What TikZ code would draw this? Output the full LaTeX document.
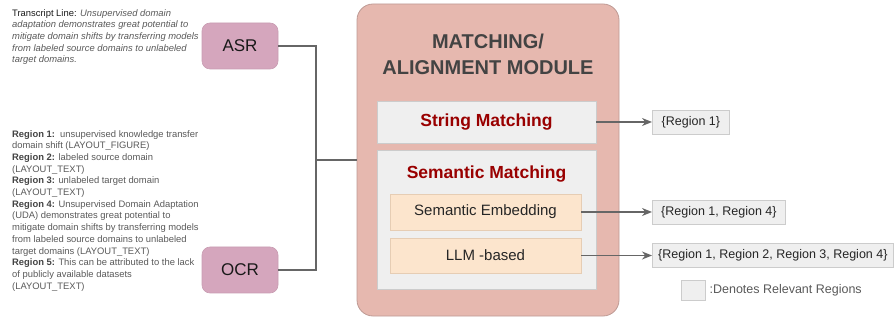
\documentclass[tikz,border=0pt]{standalone}
\usepackage{fontspec}
\setmainfont{Liberation Sans}
\definecolor{MODpink}{HTML}{E6B8AF}
\definecolor{MODedge}{HTML}{BE9A94}
\definecolor{SRCmauve}{HTML}{D5A6BD}
\definecolor{SRCedge}{HTML}{C99DB2}
\definecolor{BOXgray}{HTML}{EFEFEF}
\definecolor{BOXedge}{HTML}{CCCCCC}
\definecolor{SUBpeach}{HTML}{FCE5CD}
\definecolor{SUBedge}{HTML}{E6CDB4}
\definecolor{TXTdark}{HTML}{434343}
\definecolor{TXTgray}{HTML}{595959}
\definecolor{TXTred}{HTML}{990000}
\definecolor{LINKgray}{HTML}{666666}
\usetikzlibrary{arrows.meta, positioning}

\begin{document}
\begin{tikzpicture}[x=1pt, y=-1pt,
      srcbox/.style={draw=SRCedge, fill=SRCmauve, line width=0.6pt, rounded corners=8pt, minimum width=76pt, minimum height=46pt, font=\fontsize{17}{20}\selectfont, text=black!90},
      grayblock/.style={draw=BOXedge, fill=BOXgray, line width=0.8pt, minimum width=219pt},
      subblock/.style={draw=SUBedge, fill=SUBpeach, line width=0.8pt, minimum width=191pt, font=\fontsize{15}{18}\selectfont, text=black!85},
      regionset/.style={draw=BOXedge, fill=BOXgray, line width=0.8pt, anchor=west, minimum height=24pt, font=\fontsize{12.5}{15}\selectfont, text=black!85},
      heading/.style={font=\bfseries\fontsize{17.5}{20}\selectfont, text=TXTred},
      notes/.style={anchor=north west, align=left, inner sep=0pt, font=\fontsize{9.4}{11.7}\selectfont, text=TXTgray},
      link/.style={LINKgray, line width=1.5pt}]
   \useasboundingbox (0,0) rectangle (894,320);
   % Inputs and their text
   \node[notes] (transcript) at (12,9) {{\color{black!90}Transcript Line:} \textit{Unsupervised domain}\\
      \textit{adaptation demonstrates great potential to}\\
      \textit{mitigate domain shifts by transferring models}\\
      \textit{from labeled source domains to unlabeled}\\
      \textit{target domains.}};
   \node[notes] (regions) at (12,130) {{\bfseries\color{TXTdark}Region 1:}\ \ unsupervised knowledge transfer\\
      domain shift (LAYOUT\_FIGURE)\\
      {\bfseries\color{TXTdark}Region 2:} labeled source domain\\
      (LAYOUT\_TEXT)\\
      {\bfseries\color{TXTdark}Region 3:} unlabeled target domain\\
      (LAYOUT\_TEXT)\\
      {\bfseries\color{TXTdark}Region 4:} Unsupervised Domain Adaptation\\
      (UDA) demonstrates great potential to\\
      mitigate domain shifts by transferring models\\
      from labeled source domains to unlabeled\\
      target domains (LAYOUT\_TEXT)\\
      {\bfseries\color{TXTdark}Region 5:} This can be attributed to the lack\\
      of publicly available datasets\\
      (LAYOUT\_TEXT)};
   \node[srcbox] (asr) at (240,46) {ASR};
   \node[srcbox] (ocr) at (240,270) {OCR};
   % Matching module
   \node[draw=MODedge, fill=MODpink, line width=0.8pt, rounded corners=16pt, minimum width=262pt, minimum height=312pt] (module) at (488,160) {};
   \node[font=\bfseries\fontsize{20}{26}\selectfont, text=TXTdark, align=center] (title) at (488,54) {MATCHING/\\ALIGNMENT MODULE};
   \node[grayblock, minimum height=42pt, heading] (strmatch) at (486.5,122) {String Matching};
   \node[grayblock, minimum height=139pt] (semmatch) at (486.5,219.5) {};
   \node[heading] (semtitle) at (486.5,174) {Semantic Matching};
   \node[subblock, minimum height=36pt] (embed) at (485.5,212) {Semantic Embedding};
   \node[subblock, minimum height=35pt] (llm) at (485.5,255.5) {LLM -based};
   % Inputs into the module
   \coordinate (bus) at (316,160);
   \draw[link] (asr.east) -| (bus) |- (ocr.east);
   \draw[link] (bus) -- (module.west);
   % Relevant region sets
   \node[regionset, minimum width=77pt] (outstr) at (652,122) {\{Region 1\}};
   \node[regionset, minimum width=133pt] (outemb) at (652,212) {\{Region 1, Region 4\}};
   \node[regionset, minimum width=241pt] (outllm) at (652,255.5) {\{Region 1, Region 2, Region 3, Region 4\}};
   \draw[link, -{Stealth[length=10pt, width=8pt]}] (strmatch.east) -- (outstr.west);
   \draw[link, -{Stealth[length=10pt, width=8pt]}] (embed.east) -- (outemb.west);
   \draw[link, -{Stealth[length=10pt, width=8pt]}] (llm.east) -- (outllm.west);
   % Legend
   \node[draw=BOXedge, fill=BOXgray, line width=0.8pt, minimum width=24pt, minimum height=20pt, inner sep=0pt] (legbox) at (693,290) {};
   \node[right=4pt of legbox, inner sep=0pt, font=\fontsize{12.5}{15}\selectfont, text=TXTgray] (legtext) {:Denotes Relevant Regions};
\end{tikzpicture}
\end{document}
